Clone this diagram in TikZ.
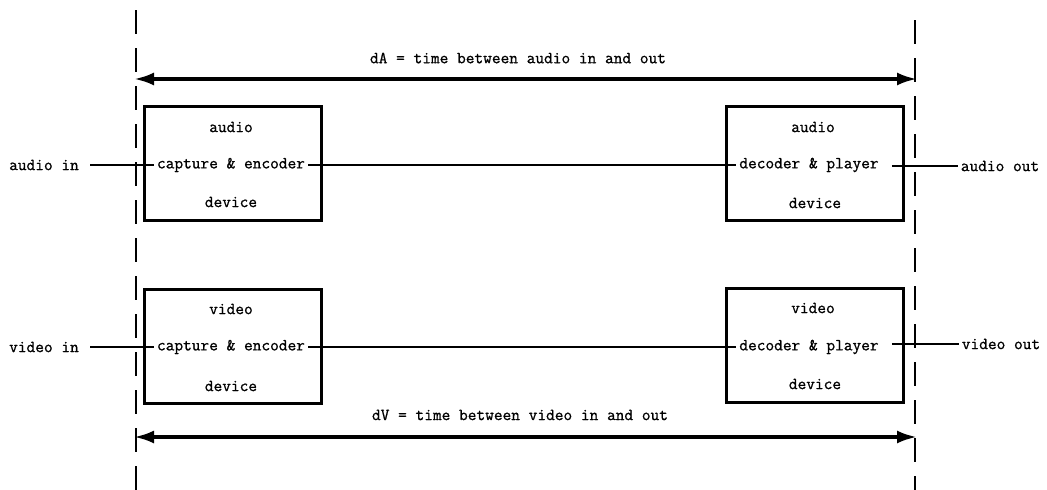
\documentclass[tikz,border=0pt]{standalone}
\usepackage{fontspec}
\newfontfamily\diagfont{Latin Modern Mono}[FakeBold=0.9]
\usetikzlibrary{arrows.meta}
\begin{document}
\begin{tikzpicture}[x=1pt,y=-1pt,
  txt/.style={font=\diagfont\fontsize{16.9}{18}\selectfont, inner sep=3pt, anchor=center},
  devbox/.style={draw, line width=3pt, minimum width=177pt, minimum height=114pt, inner sep=0pt},
  conn/.style={line width=1.8pt},
  bound/.style={line width=1.6pt, dash pattern=on 24pt off 14pt},
  span/.style={line width=3.5pt, {Latex[length=20pt,width=13pt]}-{Latex[length=20pt,width=13pt]}}
]
\useasboundingbox (0,0) rectangle (1047,490);
% boundary dashed lines
\coordinate (lt) at (136,10);
\coordinate (lb) at (136,490);
\coordinate (rt) at (915,20);
\coordinate (rb) at (915,490);
\draw[bound] (lt) -- (lb);
\draw[bound] (rt) -- (rb);

% spans
\coordinate (dAl) at (134,79);
\coordinate (dAr) at (917,79);
\draw[span] (dAl) -- (dAr);
\node[txt] (dAlab) at (518,58) {dA = time between audio in and out};
\coordinate (dVl) at (134,437);
\coordinate (dVr) at (917,437);
\draw[span] (dVl) -- (dVr);
\node[txt] (dVlab) at (520,415) {dV = time between video in and out};

% audio row
\node[devbox] (acap) at (232.5,163) {};
\node[txt] (acap1) at (231,127) {audio};
\node[txt] (acap2) at (231,165) {capture \& encoder};
\node[txt] (acap3) at (231,202) {device};
\node[devbox] (adec) at (815,163.5) {};
\node[txt] (adec1) at (813,127) {audio};
\node[txt] (adec2) at (809,165) {decoder \& player};
\node[txt] (adec3) at (815,203) {device};
\node[txt] (ain) at (44,165) {audio in};
\node[txt] (aout) at (1000,166) {audio out};
\draw[conn] ([xshift=8pt]ain.east) -- (acap2.west);
\draw[conn] (acap2.east) -- (adec2.west);
\draw[conn] ([xshift=10pt]adec2.east |- aout.west) -- (aout.west);

% video row
\node[devbox] (vcap) at (232.5,346) {};
\node[txt] (vcap1) at (231,309) {video};
\node[txt] (vcap2) at (231,347) {capture \& encoder};
\node[txt] (vcap3) at (231,386) {device};
\node[devbox] (vdec) at (815,345) {};
\node[txt] (vdec1) at (813,308) {video};
\node[txt] (vdec2) at (809,347) {decoder \& player};
\node[txt] (vdec3) at (815,384) {device};
\node[txt] (vin) at (44,347) {video in};
\node[txt] (vout) at (1001,344) {video out};
\draw[conn] ([xshift=8pt]vin.east) -- (vcap2.west);
\draw[conn] (vcap2.east) -- (vdec2.west);
\draw[conn] ([xshift=10pt]vdec2.east |- vout.west) -- (vout.west);
\end{tikzpicture}
\end{document}
